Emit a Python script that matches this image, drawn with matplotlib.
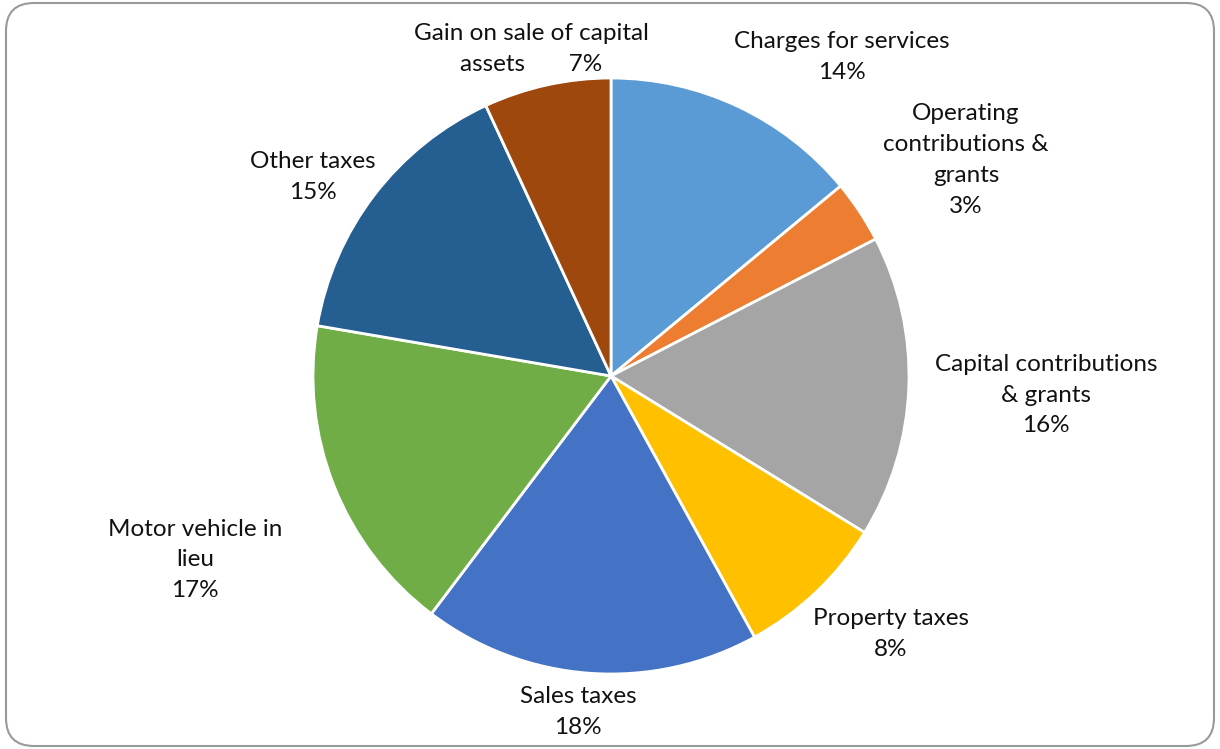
import matplotlib.pyplot as plt
from matplotlib.patches import FancyBboxPatch

# revenue sources, clockwise from 12 o'clock
sources = ['Charges for services', 'Operating\ncontributions &\ngrants',
           'Capital contributions\n& grants', 'Property taxes', 'Sales taxes',
           'Motor vehicle in\nlieu', 'Other taxes', 'Gain on sale of capital\nassets']
shares = [14.0, 3.4, 16.4, 8.2, 18.3, 17.4, 15.4, 6.9]
colors = ['#5B9BD5', '#ED7D31', '#A5A5A5', '#FFC000',
          '#4472C4', '#70AD47', '#255E91', '#9E480E']

# label anchor points (pixels, from top-left)
label_xy = [(842, 57), (966, 160), (1046, 395), (891, 634),
            (578, 712), (195, 560), (313, 177), (531, 49)]

W, H = 1220, 749
fig = plt.figure(figsize=(W / 100, H / 100), dpi=100)
ax = fig.add_axes([0, 0, 1, 1])

ax.pie(shares, colors=colors, startangle=90, counterclock=False,
       center=(611, H - 376), radius=298, frame=True,
       wedgeprops=dict(edgecolor='white', linewidth=2))
ax.set_xlim(0, W)
ax.set_ylim(0, H)
ax.set_aspect('equal')
ax.axis('off')

for name, val, (x, y) in zip(sources, shares, label_xy):
    pct = '%.0f%%' % val
    if name.endswith('assets'):
        txt = name + ' ' * 7 + pct
    else:
        txt = name + '\n' + pct
    ax.text(x, H - y, txt, ha='center', va='center', fontsize=17.5,
            family='Lato', color='#111111', linespacing=1.58)

# chart-area border
border = FancyBboxPatch((6, 3), W - 12, H - 6,
                        boxstyle='round,pad=0,rounding_size=28',
                        fill=False, edgecolor='#9a9a9a', linewidth=1.5)
ax.add_patch(border)

fig.savefig('out.png', dpi=100)
